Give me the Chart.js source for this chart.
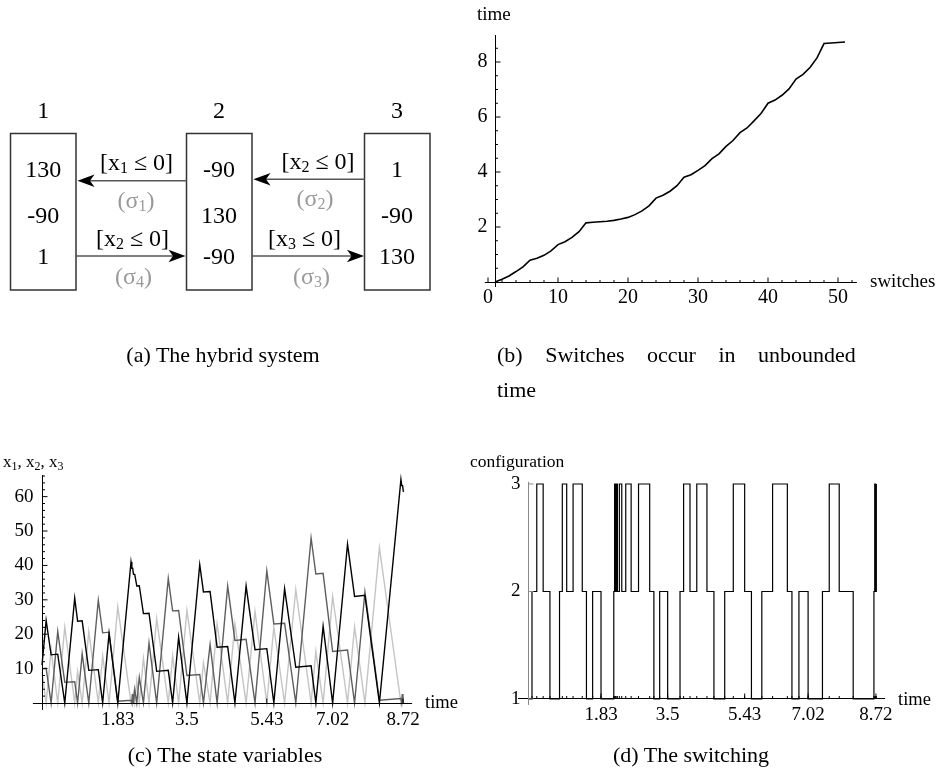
<!DOCTYPE html>
<html>
<head>
<meta charset="utf-8">
<script src="https://cdn.jsdelivr.net/npm/chart.js@4.4.1/dist/chart.umd.min.js"></script>
<style>
  html, body { margin: 0; padding: 0; background: #fff; }
  #page { position: relative; width: 940px; height: 783px; overflow: hidden; }
  #page canvas, #page svg { position: absolute; left: 0; top: 0; }
  svg text { font-family: "Liberation Serif", "Times New Roman", serif; fill: #000; }
</style>
</head>
<body>
<div id="page">
  <canvas id="chartB" width="940" height="783"></canvas>
  <canvas id="chartC" width="940" height="783"></canvas>
  <canvas id="chartD" width="940" height="783"></canvas>

  <svg width="940" height="783" xmlns="http://www.w3.org/2000/svg">
    <!-- (a) the hybrid system -->
    <g fill="none" stroke="#333" stroke-width="1.5">
      <rect x="10.5" y="133.5" width="65.5" height="156.5"/>
      <rect x="186.5" y="133.5" width="65.5" height="156.5"/>
      <rect x="364.5" y="133.5" width="65.5" height="156.5"/>
    </g>
    <g stroke="#555" stroke-width="1.5">
      <line x1="186.5" y1="180.7" x2="88" y2="180.7"/>
      <line x1="364.5" y1="179.3" x2="264" y2="179.3"/>
      <line x1="76" y1="256" x2="175" y2="256"/>
      <line x1="252" y1="256" x2="353" y2="256"/>
    </g>
    <g fill="#000">
      <path d="M77.5,180.7 L94.5,174.4 L90,180.7 L94.5,187 Z"/>
      <path d="M253.5,179.3 L270.5,173 L266,179.3 L270.5,185.6 Z"/>
      <path d="M185.5,256 L168.5,249.7 L173,256 L168.5,262.3 Z"/>
      <path d="M364,256 L347,249.7 L351.5,256 L347,262.3 Z"/>
    </g>
    <g font-size="24" text-anchor="middle">
      <text x="43.3" y="118">1</text>
      <text x="219" y="118">2</text>
      <text x="397" y="118">3</text>
      <text x="43.3" y="176.5">130</text>
      <text x="43.3" y="223">-90</text>
      <text x="43.3" y="263.5">1</text>
      <text x="219" y="176.5">-90</text>
      <text x="219" y="223">130</text>
      <text x="219" y="263.5">-90</text>
      <text x="397" y="176.5">1</text>
      <text x="397" y="223">-90</text>
      <text x="397" y="263.5">130</text>
    </g>
    <g font-size="24" text-anchor="middle">
      <text x="136.5" y="170">[x<tspan font-size="16" dy="3">1</tspan><tspan dy="-3"> ≤ 0]</tspan></text>
      <text x="318" y="168.5">[x<tspan font-size="16" dy="3">2</tspan><tspan dy="-3"> ≤ 0]</tspan></text>
      <text x="132.5" y="245.5">[x<tspan font-size="16" dy="3">2</tspan><tspan dy="-3"> ≤ 0]</tspan></text>
      <text x="304.5" y="245.5">[x<tspan font-size="16" dy="3">3</tspan><tspan dy="-3"> ≤ 0]</tspan></text>
    </g>
    <g font-size="24" text-anchor="middle">
      <text x="136" y="207.5" style="fill:#9a9a9a">(σ<tspan font-size="16" dy="3">1</tspan><tspan dy="-3">)</tspan></text>
      <text x="315" y="206" style="fill:#9a9a9a">(σ<tspan font-size="16" dy="3">2</tspan><tspan dy="-3">)</tspan></text>
      <text x="133.5" y="284" style="fill:#9a9a9a">(σ<tspan font-size="16" dy="3">4</tspan><tspan dy="-3">)</tspan></text>
      <text x="311.5" y="284" style="fill:#9a9a9a">(σ<tspan font-size="16" dy="3">3</tspan><tspan dy="-3">)</tspan></text>
    </g>

    <!-- axis titles -->
    <text x="477" y="20" font-size="19">time</text>
    <text x="870" y="287" font-size="19">switches</text>
    <text x="3" y="467" font-size="17">x<tspan font-size="12" dy="3">1</tspan><tspan dy="-3">, x</tspan><tspan font-size="12" dy="3">2</tspan><tspan dy="-3">, x</tspan><tspan font-size="12" dy="3">3</tspan></text>
    <text x="425" y="708" font-size="18.5">time</text>
    <text x="470" y="467" font-size="17.5">configuration</text>
    <text x="898" y="705" font-size="18.5">time</text>

    <!-- captions -->
    <g font-size="22">
      <text x="223" y="362" text-anchor="middle">(a) The hybrid system</text>
      <text x="497" y="362" style="word-spacing:17px">(b) Switches occur in unbounded</text>
      <text x="497" y="397">time</text>
      <text x="225" y="762" text-anchor="middle">(c) The state variables</text>
      <text x="691" y="762" text-anchor="middle">(d) The switching</text>
    </g>
  </svg>
</div>

<script>
// ---- data ----
// instants of the switches, n = 1 .. 51 (panel b), also the x positions in c and d
const switchTimes = [
  0, 0.10, 0.22, 0.38, 0.55, 0.79, 0.86, 0.97, 1.13, 1.36,
  1.465, 1.62, 1.83, 2.15, 2.17, 2.19, 2.21, 2.24, 2.29, 2.35,
  2.45, 2.585, 2.77, 3.05, 3.155, 3.30, 3.50, 3.81, 3.90, 4.06,
  4.23, 4.485, 4.66, 4.93, 5.145, 5.43, 5.60, 5.86, 6.13, 6.50,
  6.615, 6.79, 7.02, 7.38, 7.55, 7.80, 8.15, 8.67, 8.69, 8.71, 8.73
];
// configuration entered at each switch (panel d)
const configuration = [
  1, 2, 3, 2, 1, 2, 3, 2, 3, 2,
  1, 2, 1, 2, 3, 2, 3, 2, 3, 2,
  3, 2, 3, 2, 1, 2, 1, 2, 3, 2,
  3, 2, 1, 2, 3, 2, 1, 2, 3, 2,
  1, 2, 1, 2, 3, 2, 1, 2, 3, 2, 3
];
// state variables at the switches (panel c)
const x1Values = [
  11, 24, 14, 14.2, 0, 30.5, 23.8, 23.9, 9.5, 9.7,
  0, 20.2, 0, 41, 39.2, 39.2, 37.4, 37.4, 34, 34.1,
  26, 26.1, 9.2, 9.5, 0, 19.1, 0, 40.2, 32.3, 32.4,
  16.2, 16.4, 0, 34, 15.5, 15.8, 0, 33.2, 10.4, 10.8,
  0, 22.3, 0, 46.2, 31, 31.3, 0, 65, 63.2, 63.2, 61.4
];
const x2Values = [
  9, 0, 15.6, 0, 22.1, 0, 9.1, 0, 20.8, 0,
  13.7, 0, 28, 0, 2.6, 0, 2.6, 0, 6.5, 0,
  13, 0, 24.5, 0, 13.7, 0, 27, 0, 11.7, 0,
  23, 0, 23, 0, 26.6, 0, 22.1, 0, 33, 0,
  15, 0, 31, 0, 22.1, 0, 45.2, 0, 2.6, 0, 2.6
];
const x3Values = [
  10, 10.1, 0, 20.8, 6, 6.2, 0, 14.3, 0, 29.9,
  20.4, 20.6, 0.5, 0.8, 0, 2.6, 0, 3.9, 0, 7.5,
  0, 17.5, 0, 36.2, 26.8, 26.9, 8, 8.3, 0, 17,
  0, 34, 18.2, 18.5, 0, 38.4, 23, 23.2, 0, 48,
  37.5, 37.7, 15, 15.4, 0, 32.3, 0.8, 1.3, 0, 2.6, 0
];

// tick marks
const switchTicks = [0, 10, 20, 30, 40, 50];
const timeValueTicks = [2, 4, 6, 8];
const stateTicks = [10, 20, 30, 40, 50, 60];
const timeTicks = [1.83, 3.5, 5.43, 7.02, 8.72];
const timeTickLabels = ['1.83', '3.5', '5.43', '7.02', '8.72'];
const configTicks = [1, 2, 3];

// ---- Mathematica-like axes, drawn through the chart scales ----
function seg(ctx, x1, y1, x2, y2) {
  ctx.beginPath();
  ctx.moveTo(x1, y1);
  ctx.lineTo(x2, y2);
  ctx.stroke();
}
const snap = p => Math.round(p - 0.5) + 0.5;

function mmaAxes(spec) {
  return {
    id: 'mmaAxes',
    afterDatasetsDraw(chart) {
      const { ctx, scales: { x, y } } = chart;
      const px = v => x.getPixelForValue(v);
      const py = v => y.getPixelForValue(v);
      const xa = spec.xAxis, ya = spec.yAxis;
      ctx.save();
      ctx.lineWidth = 1;

      // horizontal axis, ticks pointing up
      const ay = snap(py(xa.at));
      ctx.strokeStyle = xa.color;
      seg(ctx, px(xa.from), ay, px(xa.to), ay);
      xa.minor.forEach(v => seg(ctx, px(v), ay, px(v), ay - 2.5));
      xa.major.forEach(v => seg(ctx, px(v), ay, px(v), ay - 5));

      // vertical axis, ticks pointing right
      const ax = snap(px(ya.at));
      ctx.strokeStyle = ya.color;
      seg(ctx, ax, py(ya.from), ax, py(ya.to));
      ya.minor.forEach(v => seg(ctx, ax, py(v), ax + 2.5, py(v)));
      ya.major.forEach(v => seg(ctx, ax, py(v), ax + 5, py(v)));

      ctx.fillStyle = '#000';
      ctx.font = spec.font;
      ctx.textAlign = 'center';
      ctx.textBaseline = 'alphabetic';
      xa.major.forEach((v, i) => ctx.fillText(xa.labels[i], px(v), ay + xa.labelDy));
      ctx.textAlign = 'right';
      ctx.textBaseline = 'middle';
      ya.major.forEach((v, i) => ctx.fillText(ya.labels[i], ax - ya.labelDx, py(v)));
      ctx.restore();
    }
  };
}

// area = [left, top, right, bottom] of the plot in page pixels
function makeChart(id, datasets, xRange, yRange, area, spec) {
  return new Chart(document.getElementById(id), {
    type: 'line',
    data: { datasets },
    options: {
      responsive: false,
      animation: false,
      events: [],
      layout: { padding: { left: area[0], top: area[1], right: 940 - area[2], bottom: 783 - area[3] } },
      plugins: { legend: { display: false }, tooltip: { enabled: false } },
      elements: { point: { radius: 0 }, line: { tension: 0 } },
      scales: {
        x: { type: 'linear', min: xRange[0], max: xRange[1], display: false },
        y: { type: 'linear', min: yRange[0], max: yRange[1], display: false },
      },
    },
    plugins: [mmaAxes(spec)],
  });
}

function range(from, to, step, skip) {
  const out = [];
  for (let v = from; v <= to + 1e-9; v += step) {
    if (!skip.some(s => Math.abs(s - v) < 1e-9)) out.push(+v.toFixed(3));
  }
  return out;
}

// (b) switches occur in unbounded time
makeChart('chartB', [{
  data: switchTimes.map((t, i) => ({ x: i + 1, y: t })),
  borderColor: '#000', borderWidth: 1.6,
}], [-1, 53], [-0.4, 9.1], [481, 31.75, 859, 293], {
  font: '20px "Liberation Serif"',
  xAxis: { at: 0, from: -0.45, to: 52.7, color: '#000', major: switchTicks,
           labels: switchTicks.map(String), minor: range(0, 52, 2, switchTicks), labelDy: 20 },
  yAxis: { at: 1, from: -0.18, to: 8.98, color: '#000', major: timeValueTicks,
           labels: timeValueTicks.map(String), minor: range(0.5, 8.5, 0.5, timeValueTicks), labelDx: 8 },
});

// (c) the state variables
makeChart('chartC', [
  { data: switchTimes.map((t, i) => ({ x: t, y: x1Values[i] })), borderColor: '#000', borderWidth: 1.4 },
  { data: switchTimes.map((t, i) => ({ x: t, y: x3Values[i] })), borderColor: '#5e5e5e', borderWidth: 1.4 },
  { data: switchTimes.map((t, i) => ({ x: t, y: x2Values[i] })), borderColor: '#c4c4c4', borderWidth: 1.4 },
], [-0.3, 9.0], [-2.5, 68.5], [29.58, 467.4, 414.6, 711.6], {
  font: '19px "Liberation Serif"',
  xAxis: { at: 0, from: -0.22, to: 8.94, color: '#000', major: timeTicks,
           labels: timeTickLabels, minor: [], labelDy: 21 },
  yAxis: { at: 0, from: -2, to: 66.3, color: '#000', major: stateTicks,
           labels: stateTicks.map(String), minor: range(2, 66, 2, stateTicks), labelDx: 9 },
});

// (d) the switching
makeChart('chartD', [{
  data: switchTimes.map((t, i) => ({ x: t, y: configuration[i] })),
  borderColor: '#000', borderWidth: 1.2, stepped: true,
}], [-0.3, 9.0], [0.93, 3.05], [516.03, 478.6, 887.1, 706.5], {
  font: '19px "Liberation Serif"',
  xAxis: { at: 1, from: -0.25, to: 8.95, color: '#000', major: timeTicks,
           labels: timeTickLabels, minor: switchTimes.slice(1), labelDy: 21 },
  yAxis: { at: 0, from: 0.944, to: 3.02, color: '#888', major: configTicks,
           labels: configTicks.map(String), minor: [], labelDx: 8 },
});
</script>
</body>
</html>
